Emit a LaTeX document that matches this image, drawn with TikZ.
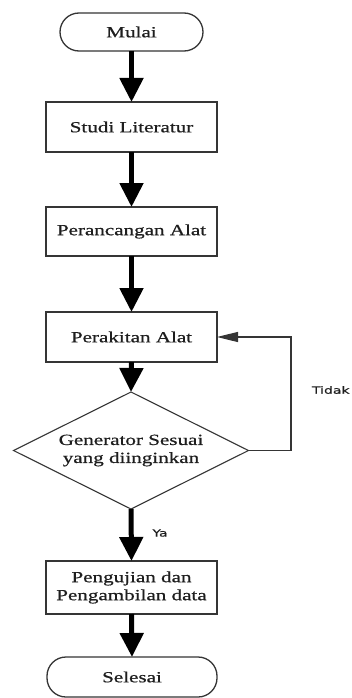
\documentclass[tikz,border=0pt]{standalone}
\usepackage{fontspec}
\usetikzlibrary{arrows.meta,shapes.geometric}
\newfontfamily\boxfont{Liberation Serif}[FakeStretch=1.36,FakeBold=0.6]
\newfontfamily\labfont{DejaVu Sans}[FakeStretch=1.4,FakeBold=0.4]
\definecolor{edge}{HTML}{353535}
\definecolor{txt}{HTML}{1E1E1E}
\begin{document}
\begin{tikzpicture}[x=1pt,y=-1pt,
  every node/.style={inner sep=0pt,outer sep=0pt},
  boxstyle/.style={draw=edge,line width=1.3pt,fill=white,rectangle,minimum width=171pt,
     text=txt,font=\boxfont\fontsize{15.5}{18}\selectfont,align=center},
  termstyle/.style={boxstyle,rounded corners=19pt},
  decstyle/.style={draw=edge,line width=1.1pt,diamond,minimum width=235pt,minimum height=117pt,aspect=2,
     text=txt,font=\boxfont\fontsize{15.5}{18}\selectfont,align=center},
  flow/.style={line width=5pt,-{Triangle[length=24pt,width=23pt]}},
  back/.style={draw=edge,line width=1.2pt,-{Triangle[length=21pt,width=10pt]}},
  lab/.style={font=\labfont\fontsize{10}{12}\selectfont,text=txt}]
\useasboundingbox (0,0) rectangle (351,698);
\fill[white] (0,0) rectangle (351,698);

\node[termstyle,minimum width=143pt,minimum height=38pt] (mulai) at (131.5,32) {Mulai};
\node[boxstyle,minimum height=50pt] (studi) at (131.5,127) {Studi Literatur};
\node[boxstyle,minimum height=49pt] (rancang) at (131.5,231.5) {Perancangan Alat};
\node[boxstyle,minimum height=50pt] (rakit) at (131.5,337) {Perakitan Alat};
\node[decstyle] (gen) at (131,450.5) {Generator Sesuai\\yang diinginkan};
\node[boxstyle,minimum height=53pt] (uji) at (131.5,587.5) {Pengujian dan\\Pengambilan data};
\node[termstyle,minimum width=170pt,minimum height=40pt] (selesai) at (132,677) {Selesai};

\draw[flow] (mulai.south) -- (studi.north);
\draw[flow] (studi.south) -- (rancang.north);
\draw[flow] (rancang.south) -- (rakit.north);
\draw[flow] (rakit.south) -- (gen.north);
\draw[flow] (gen.south) -- (uji.north);
\draw[flow] (uji.south) -- (selesai.north);

\coordinate (loop) at (291,450.5);
\draw[back] (gen.east) -- (loop) |- (rakit.east);

\node[lab,anchor=west] (tidak) at (312,390) {Tidak};
\node[lab] (ya) at (160,533) {Ya};
\end{tikzpicture}
\end{document}
